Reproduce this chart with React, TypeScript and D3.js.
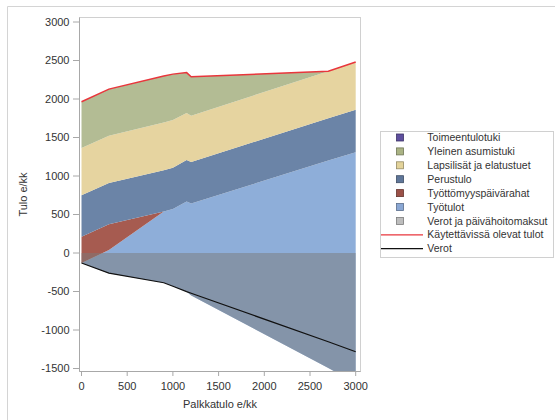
import React from "react";
import * as d3 from "d3";

// ---- data ----
const incomeX = [0, 300, 900, 1000, 1150, 1200, 2700, 3000];
const tyotulot = [0, 300, 925, 1005, 1170, 1195, 2695, 2995];
const tyottomyyspaivarahat = [340, 335, 0, 0, 0, 0, 0, 0];
const perustulo = [540, 535, 535, 535, 540, 540, 550, 550];
const lapsilisat = [615, 615, 620, 620, 610, 600, 610, 620];
const asumistuki = [600, 605, 605, 595, 525, 505, 0, 0];
const toimeentulotuki = [0, 0, 0, 0, 0, 0, 0, 0];
const verotJaMaksut = [-130, -262, -386, -432, -502, -552, -1495, -1685];
const verot = [-130, -262, -386, -432, -502, -523, -1153, -1282];

const xTicks = [0, 500, 1000, 1500, 2000, 2500, 3000];
const yTicks = [-1500, -1000, -500, 0, 500, 1000, 1500, 2000, 2500, 3000];

const bandNames = [
  "Työtulot",
  "Työttömyyspäivärahat",
  "Perustulo",
  "Lapsilisät ja elatustuet",
  "Yleinen asumistuki",
  "Toimeentulotuki",
];
const bandValues = [tyotulot, tyottomyyspaivarahat, perustulo, lapsilisat, asumistuki, toimeentulotuki];
const bandColors = ["#8eaed9", "#a65b50", "#6b84a7", "#e6d4a0", "#b3bc94", "#6a5aa8"];

const legendItems = [
  { label: "Toimeentulotuki", color: "#5e4f9e", kind: "box" },
  { label: "Yleinen asumistuki", color: "#aab384", kind: "box" },
  { label: "Lapsilisät ja elatustuet", color: "#e3d39a", kind: "box" },
  { label: "Perustulo", color: "#5f7699", kind: "box" },
  { label: "Työttömyyspäivärahat", color: "#9b5148", kind: "box" },
  { label: "Työtulot", color: "#8aa7d4", kind: "box" },
  { label: "Verot ja päivähoitomaksut", color: "#bdbdbd", kind: "box" },
  { label: "Käytettävissä olevat tulot", color: "#e8363c", kind: "line" },
  { label: "Verot", color: "#111111", kind: "line" },
];

const FONT = "'Liberation Sans', Arial, sans-serif";

export default function App() {
  const x = d3.scaleLinear().domain([0, 3000]).range([81.5, 355.7]);
  const y = d3.scaleLinear().domain([-1500, 3000]).range([368.5, 22]);

  const frame = { x0: 79.5, x1: 360.5, y0: 17.5, y1: 371.5 };

  // cumulative stacks starting from the (negative) taxes+fees baseline
  type Pt = { x: number; lo: number; hi: number };
  const bands: Pt[][] = [];
  const running = verotJaMaksut.slice();
  bandValues.forEach((vals) => {
    const pts: Pt[] = incomeX.map((xv, i) => {
      const lo = running[i];
      const hi = lo + vals[i];
      return { x: xv, lo, hi };
    });
    pts.forEach((p, i) => (running[i] = p.hi));
    bands.push(pts);
  });
  const disposable = incomeX.map((xv, i) => ({ x: xv, v: running[i] }));

  const area = d3
    .area<Pt>()
    .x((d) => x(d.x))
    .y0((d) => y(d.lo))
    .y1((d) => y(d.hi));

  const taxArea = d3
    .area<number>()
    .x((_, i) => x(incomeX[i]))
    .y0(() => y(0))
    .y1((d) => y(d));

  const line = d3
    .line<{ x: number; v: number }>()
    .x((d) => x(d.x))
    .y((d) => y(d.v));

  const taxLine = incomeX.map((xv, i) => ({ x: xv, v: verot[i] }));

  const legendX = 380.5;
  const legendY = 131.5;
  const rowY0 = 137.5;
  const rowStep = 13.9;

  return (
    <svg
      width={555}
      height={420}
      style={{ position: "absolute", left: 0, top: 0, fontFamily: FONT }}
    >
      <rect x={0} y={0} width={555} height={420} fill="#fff" />
      {/* outer frame */}
      <line x1={7.5} y1={6.5} x2={555} y2={6.5} stroke="#d4d4d4" />
      <line x1={7.5} y1={6.5} x2={7.5} y2={420} stroke="#d4d4d4" />

      <defs>
        <clipPath id="plotClip">
          <rect x={frame.x0} y={frame.y0} width={frame.x1 - frame.x0} height={frame.y1 - frame.y0} />
        </clipPath>
      </defs>

      <g clipPath="url(#plotClip)">
        {bands.map((b, i) => (
          <path key={bandNames[i]} d={area(b) || ""} fill={bandColors[i]} />
        ))}
        <path d={taxArea(verotJaMaksut) || ""} fill="rgb(121,121,121)" fillOpacity={0.5} />
        <path d={line(taxLine) || ""} fill="none" stroke="#111" strokeWidth={1.2} />
        <path d={line(disposable) || ""} fill="none" stroke="#e8363c" strokeWidth={1.5} />
      </g>

      {/* plot frame */}
      <rect
        x={frame.x0}
        y={frame.y0}
        width={frame.x1 - frame.x0}
        height={frame.y1 - frame.y0}
        fill="none"
        stroke="#d0d0d0"
      />
      <line x1={frame.x0} y1={frame.y0} x2={frame.x0} y2={frame.y1} stroke="#a8a8a8" />
      <line x1={frame.x0} y1={frame.y1} x2={frame.x1} y2={frame.y1} stroke="#a8a8a8" />

      {/* y axis */}
      {yTicks.map((t) => (
        <g key={"y" + t}>
          <line x1={73} x2={frame.x0} y1={y(t)} y2={y(t)} stroke="#a8a8a8" />
          <text x={69.5} y={y(t)} dy="0.35em" textAnchor="end" fontSize={11} fill="#333">
            {t}
          </text>
        </g>
      ))}
      {/* x axis */}
      {xTicks.map((t) => (
        <g key={"x" + t}>
          <line x1={x(t)} x2={x(t)} y1={frame.y1} y2={376} stroke="#a8a8a8" />
          <text x={x(t)} y={385.7} dy="0.35em" textAnchor="middle" fontSize={11} fill="#333">
            {t}
          </text>
        </g>
      ))}

      <text
        x={(frame.x0 + frame.x1) / 2}
        y={404.3}
        dy="0.35em"
        textAnchor="middle"
        fontSize={11}
        fill="#333"
      >
        Palkkatulo e/kk
      </text>
      <text
        transform={`translate(23.5,${(frame.y0 + frame.y1) / 2}) rotate(-90)`}
        textAnchor="middle"
        dy="0.35em"
        fontSize={11}
        fill="#333"
      >
        Tulo e/kk
      </text>

      {/* legend */}
      <rect x={legendX} y={legendY} width={173} height={126} fill="#fff" stroke="#d0d0d0" />
      {legendItems.map((it, i) => {
        const cy = rowY0 + i * rowStep;
        return (
          <g key={it.label}>
            {it.kind === "box" ? (
              <rect
                x={396.5}
                y={cy - 3.5}
                width={7}
                height={7}
                fill={it.color}
                stroke={d3.color(it.color)!.darker(1.2).toString()}
                strokeWidth={0.8}
              />
            ) : (
              <line x1={381} x2={423} y1={cy} y2={cy} stroke={it.color} strokeWidth={1.2} />
            )}
            <text x={427.3} y={cy} dy="0.35em" fontSize={10.5} fill="#333">
              {it.label}
            </text>
          </g>
        );
      })}
    </svg>
  );
}
